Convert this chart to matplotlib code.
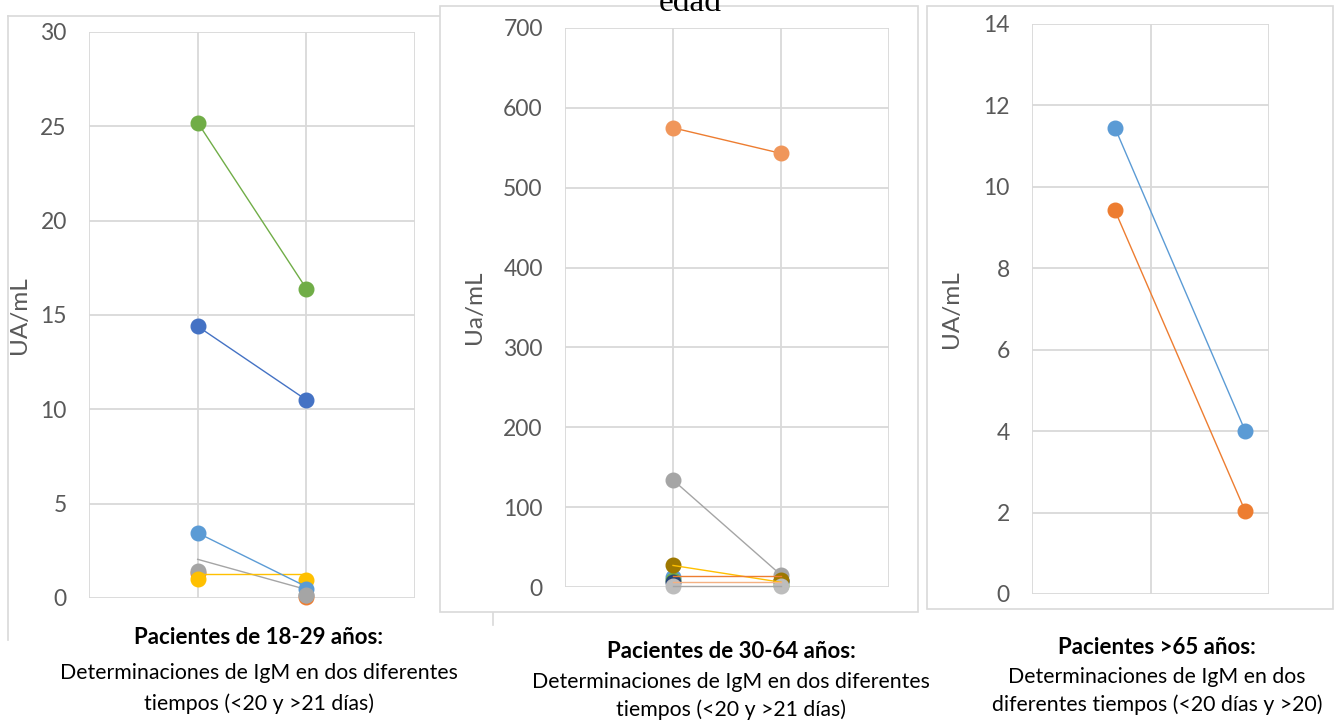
import matplotlib.pyplot as plt
from matplotlib.patches import Rectangle
from matplotlib.lines import Line2D

W, H = 1340, 723

# x positions of the two measurements
x_pair = [1, 2]
x_pair_right = [0.7, 1.8]

# Pacientes 18-29 (marker values, line values)
l_green = [25.2, 16.4]
l_dblue = [14.4, 10.5]
l_lblue = [3.45, 0.5]
l_lblue_line = [3.45, 0.6]
l_gray = [1.45, 0.15]
l_gray_line = [2.05, 0.45]
l_orange = [1.3, 0.05]
l_yellow = [1.0, 0.95]
l_yellow_line = [1.27, 1.27]

# Pacientes 30-64
m_orange = [575, 543]
m_gray = [134, 15]
m_gold = [27, 9]
m_gold_line = [27, 6]
m_blue = [12, 8]
m_green = [9, 3]
m_orange_flat1 = [14, 14]
m_orange_flat2 = [6, 6]
m_dblue = [6, 8]
m_lgray = [1, 1]

# Pacientes >65
r_blue = [11.45, 4.0]
r_orange = [9.42, 2.03]

captions = [
    ("Pacientes de 18-29 años:", "Determinaciones de IgM en dos diferentes", "tiempos (<20 y >21 días)"),
    ("Pacientes de 30-64 años:", "Determinaciones de IgM en dos diferentes", "tiempos (<20 y >21 días)"),
    ("Pacientes >65 años:", "Determinaciones de IgM en dos", "diferentes tiempos (<20 días y >20)"),
]

plt.rcParams['font.family'] = ['Lato', 'DejaVu Sans']
grid_c = '#D9D9D9'
txt_c = '#595959'

fig = plt.figure(figsize=(W / 100, H / 100), dpi=100)


def fx(px):
    return px / W


def fy(py):
    return 1 - py / H


# panel frames
fig.add_artist(Line2D([fx(8), fx(8)], [fy(16), fy(640)], color=grid_c, lw=1.2, zorder=-3))
fig.add_artist(Line2D([fx(8), fx(445)], [fy(16), fy(16)], color=grid_c, lw=1.2, zorder=-3))
fig.add_artist(Line2D([fx(493), fx(493)], [fy(612), fy(625)], color=grid_c, lw=1.2, zorder=-3))
fig.add_artist(Rectangle((fx(440), fy(612)), fx(918) - fx(440), fy(6) - fy(612),
                         facecolor='white', edgecolor=grid_c, lw=1.2, zorder=-2))
fig.add_artist(Rectangle((fx(927), fy(609)), fx(1333) - fx(927), fy(6) - fy(609),
                         facecolor='white', edgecolor=grid_c, lw=1.2, zorder=-2))


def make_ax(x0, x1, top, bot, ymax, ystep, xmax, xgrid, ylabel, lab_x):
    ax = fig.add_axes([fx(x0), fy(bot), fx(x1) - fx(x0), fy(top) - fy(bot)])
    ax.set_facecolor('none')
    ax.set_xlim(0, xmax)
    ax.set_ylim(0, ymax)
    ax.set_xticks(xgrid)
    ax.set_yticks(range(0, ymax + 1, ystep))
    ax.tick_params(axis='x', labelbottom=False, length=0)
    ax.tick_params(axis='y', length=0, pad=16, labelsize=16.5, labelcolor=txt_c)
    ax.grid(True, color=grid_c, lw=1.3)
    for s in ax.spines.values():
        s.set_visible(False)
    ax.set_ylabel(ylabel, fontsize=17.5, color=txt_c)
    ax.yaxis.set_label_coords((lab_x - x0) / (x1 - x0), 0.5)
    return ax


lw = 1.0
ms = 10.5

# left panel
ax1 = make_ax(89, 415, 32, 598, 30, 5, 3, [0, 1, 2, 3], 'UA/mL', 30)
ax1.plot(x_pair, l_green, color='#70AD47', lw=lw, marker='o', ms=ms)
ax1.plot(x_pair, l_dblue, color='#4472C4', lw=lw, marker='o', ms=ms)
ax1.plot(x_pair, l_orange, color='#ED7D31', lw=0, marker='o', ms=ms)
ax1.plot(x_pair, l_gray, color='#A5A5A5', lw=0, marker='o', ms=ms)
ax1.plot(x_pair, l_gray_line, color='#A5A5A5', lw=lw)
ax1.plot(x_pair, l_yellow, color='#FFC000', lw=0, marker='o', ms=ms)
ax1.plot(x_pair, l_yellow_line, color='#FFC000', lw=lw)
ax1.plot(x_pair, l_lblue, color='#5B9BD5', lw=0, marker='o', ms=ms)
ax1.plot(x_pair, l_lblue_line, color='#5B9BD5', lw=lw)
ax1.plot([2], [l_gray[1]], color='#A5A5A5', lw=0, marker='o', ms=ms)
for c in ax1.lines:
    c.set_clip_on(False)

# middle panel
ax2 = make_ax(565, 889, 28, 587, 700, 100, 3, [0, 1, 2, 3], 'Ua/mL', 485)
ax2.plot(x_pair, m_orange, color='#ED7D31', lw=lw, marker='o', ms=ms,
         mfc='#F0965A', mec='#F0965A')
ax2.plot(x_pair, m_gray, color='#A5A5A5', lw=lw, marker='o', ms=ms)
ax2.plot(x_pair, m_blue, color='#5B9BD5', lw=0, marker='o', ms=ms)
ax2.plot(x_pair, m_green, color='#70AD47', lw=0, marker='o', ms=ms)
ax2.plot(x_pair, m_dblue, color='#264478', lw=0, marker='o', ms=ms)
ax2.plot(x_pair, m_gold, color='#9E7800', lw=0, marker='o', ms=ms)
ax2.plot(x_pair, m_lgray, color='#BDBDBD', lw=0, marker='o', ms=ms)
ax2.plot(x_pair, m_lgray, color='#A5A5A5', lw=lw)
ax2.plot(x_pair, m_gold_line, color='#FFC000', lw=lw)
ax2.plot(x_pair, m_orange_flat1, color='#ED7D31', lw=lw)
ax2.plot(x_pair, m_orange_flat2, color='#F4B183', lw=lw)
for c in ax2.lines:
    c.set_clip_on(False)

# right panel
ax3 = make_ax(1032, 1269, 24, 594, 14, 2, 2, [0, 1, 2], 'UA/mL', 962)
ax3.plot(x_pair_right, r_blue, color='#5B9BD5', lw=lw, marker='o', ms=ms)
ax3.plot(x_pair_right, r_orange, color='#ED7D31', lw=lw, marker='o', ms=ms)

# title cut off at the top edge, as in the source image
fig.text(fx(690), fy(11), 'edad', ha='center', va='baseline', fontsize=24,
         family='Liberation Serif', zorder=5)

# captions
cap_pos = [(259, [638, 673, 704]), (731, [652, 682, 710]), (1157, [647, 677, 705])]
for (cx, ys), lines in zip(cap_pos, captions):
    fig.text(fx(cx), fy(ys[0]), lines[0], ha='center', va='center', fontsize=16,
             fontweight='bold')
    fig.text(fx(cx), fy(ys[1]), lines[1], ha='center', va='center', fontsize=15.3)
    fig.text(fx(cx), fy(ys[2]), lines[2], ha='center', va='center', fontsize=15.3)

fig.savefig('out.png', dpi=100)
